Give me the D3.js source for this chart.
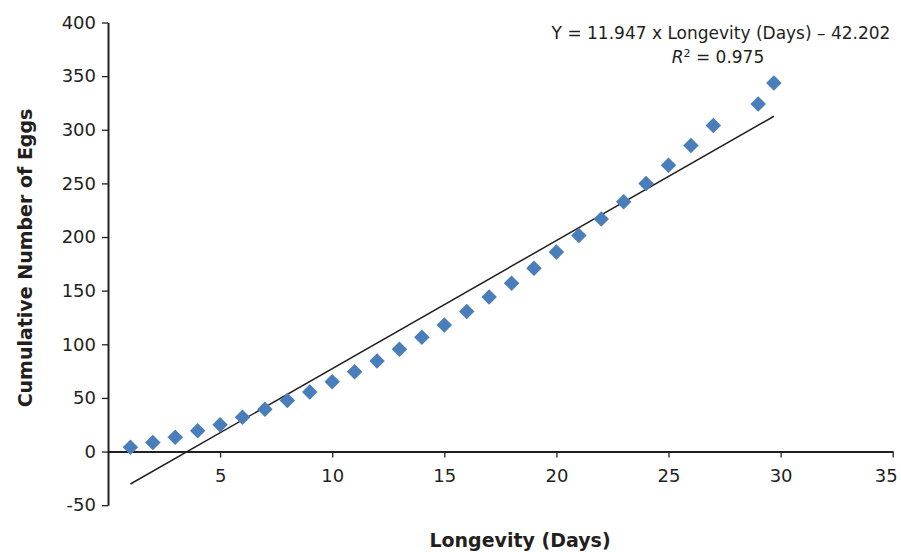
<!DOCTYPE html>
<html>
<head>
<meta charset="utf-8">
<title>Cumulative eggs vs longevity</title>
<script src="https://cdn.jsdelivr.net/npm/d3@7/dist/d3.min.js"></script>
<style>
  body { margin: 0; background: #fff; }
  svg text { font-family: "DejaVu Sans", "Liberation Sans", Arial, sans-serif; fill: #231f20; }
</style>
</head>
<body>
<div id="chart"></div>
<script>
// values
var days = [1, 2, 3, 4, 5, 6, 7, 8, 9, 10, 11, 12, 13, 14, 15, 16, 17, 18, 19, 20,
            21, 22, 23, 24, 25, 26, 27, 29, 29.7];
var eggs = [4, 8.5, 13.3, 19.3, 25, 32, 39.5, 47.5, 55.5, 65, 74.5, 84.5, 95.4, 106.6, 118, 130.6, 144, 157,
            171, 186, 201.5, 216.7, 233, 250, 267, 285.4, 304, 324, 343.5];
var xTicks = [5, 10, 15, 20, 25, 30, 35];
var yTicks = [-50, 0, 50, 100, 150, 200, 250, 300, 350, 400];
var slope = 11.947, intercept = -42.202;
var fitRange = [1, 29.7];

var width = 901, height = 552;
var svg = d3.select("#chart").append("svg")
  .attr("width", width).attr("height", height);

var x = d3.scaleLinear().domain([0, 35]).range([108, 892.7]);
var y = d3.scaleLinear().domain([-50, 400]).range([505.2, 22.5]);

/* y axis */
var yAxis = svg.append("g")
  .attr("transform", "translate(" + x(0) + ",0)")
  .call(d3.axisLeft(y).tickValues(yTicks).tickFormat(function(d) { return String(d); })
    .tickSize(6).tickPadding(6).tickSizeOuter(0));
yAxis.select(".domain").attr("stroke", "#231f20").attr("stroke-width", 2);
yAxis.selectAll(".tick line").attr("stroke", "#231f20").attr("stroke-width", 1.3);
yAxis.selectAll(".tick text").style("font-size", "18px");

/* x axis sits at y = 0 */
var xAxis = svg.append("g")
  .attr("transform", "translate(0," + y(0) + ")")
  .call(d3.axisBottom(x).tickValues(xTicks).tickSize(6).tickPadding(12).tickSizeOuter(0));
xAxis.select(".domain").attr("stroke", "#231f20").attr("stroke-width", 2);
xAxis.selectAll(".tick line").attr("stroke", "#231f20").attr("stroke-width", 1.3);
xAxis.selectAll(".tick text").style("font-size", "18px");
// last label pulled in so it stays on the page
xAxis.selectAll(".tick text").filter(function(d) { return d === 35; }).attr("dx", -7);

/* trend line */
var line = d3.line().x(function(d) { return x(d); })
  .y(function(d) { return y(slope * d + intercept); });
svg.append("path")
  .datum(fitRange)
  .attr("d", line)
  .attr("fill", "none")
  .attr("stroke", "#231f20")
  .attr("stroke-width", 1.5);

/* points */
var diamond = d3.symbol().type(d3.symbolSquare).size(120);
svg.selectAll(".pt")
  .data(days)
  .enter().append("path")
  .attr("class", "pt")
  .attr("d", diamond)
  .attr("fill", "#4a7ebb")
  .attr("transform", function(d, i) {
    return "translate(" + x(d) + "," + y(eggs[i]) + ") rotate(45)";
  });

/* axis titles */
svg.append("text")
  .attr("x", 520).attr("y", 547)
  .attr("text-anchor", "middle")
  .style("font-size", "19px").style("font-weight", "bold")
  .text("Longevity (Days)");

svg.append("text")
  .attr("transform", "translate(32," + 258 + ") rotate(-90)")
  .attr("text-anchor", "middle")
  .style("font-size", "19px").style("font-weight", "bold")
  .text("Cumulative Number of Eggs");

/* equation */
svg.append("text")
  .attr("x", 721).attr("y", 39)
  .attr("text-anchor", "middle")
  .style("font-size", "17px")
  .text("Y = 11.947 x Longevity (Days) \u2013 42.202");

var r2 = svg.append("text")
  .attr("x", 718).attr("y", 63)
  .attr("text-anchor", "middle")
  .style("font-size", "17px");
r2.append("tspan").style("font-style", "italic").text("R");
r2.append("tspan").attr("dy", -6).style("font-size", "11px").text("2");
r2.append("tspan").attr("dy", 6).text(" = 0.975");
</script>
</body>
</html>
